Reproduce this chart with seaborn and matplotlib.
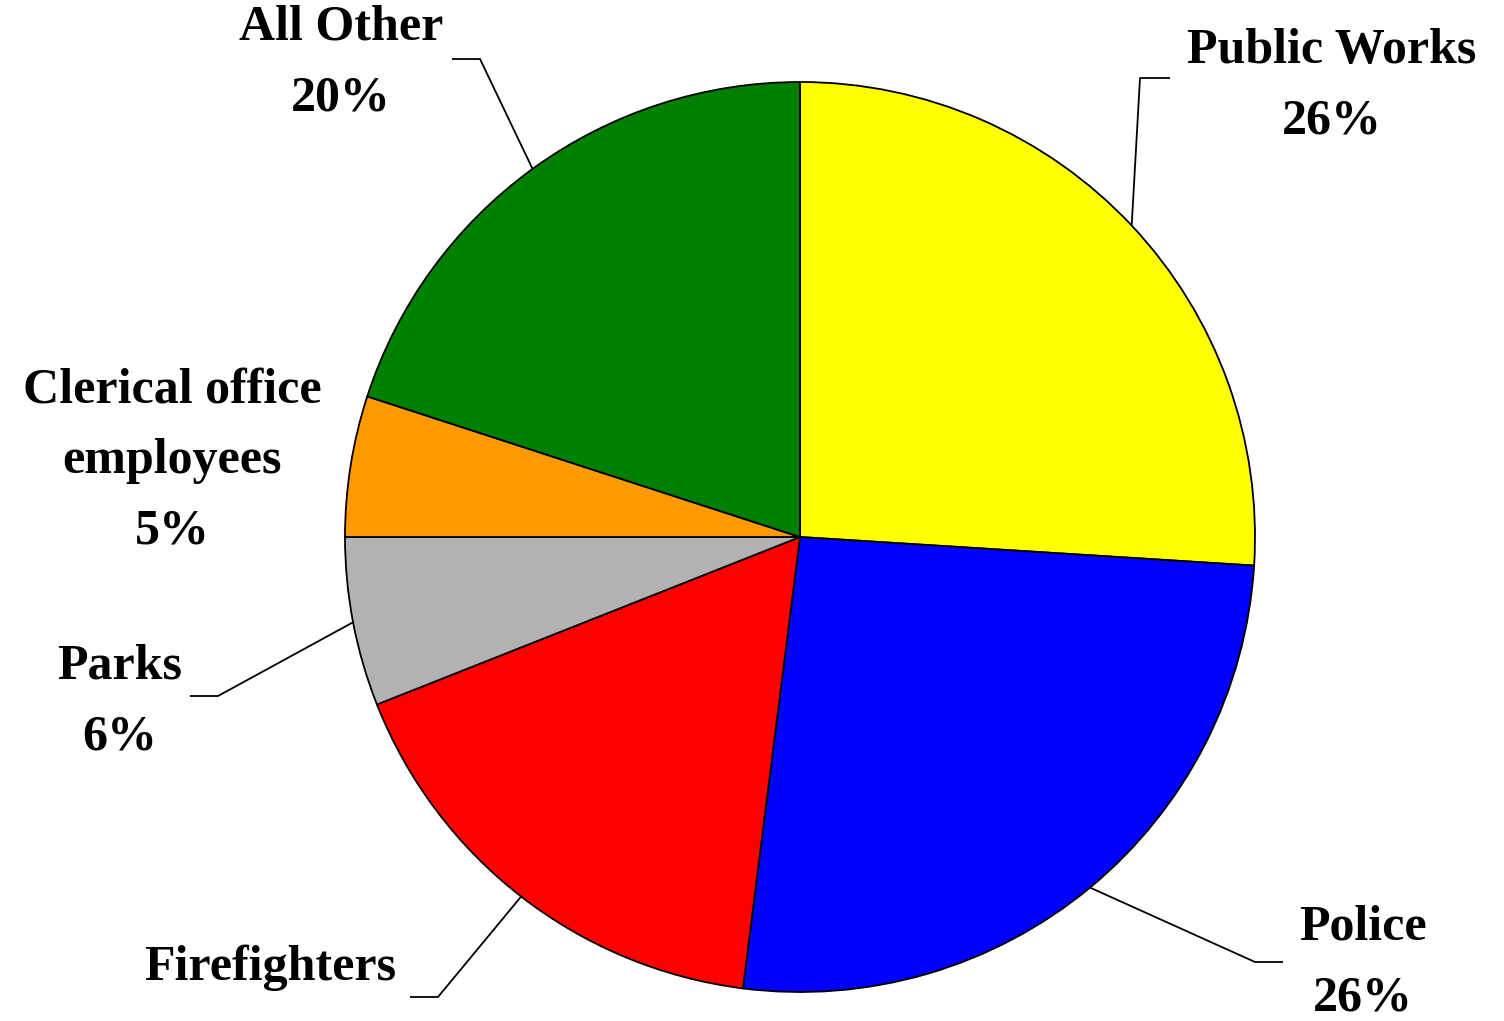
import numpy as np
import matplotlib
matplotlib.use("Agg")
import matplotlib.pyplot as plt
import seaborn as sns

# Share of employees by department
departments = ["Public Works", "Police", "Firefighters", "Parks",
               "Clerical office\nemployees", "All Other"]
shares = [26, 26, 17, 6, 5, 20]
colors = ["#FFFF00", "#0000FF", "#FF0000", "#B2B2B2", "#FF9900", "#008000"]
show_pct = [True, True, False, True, True, True]

sns.set_theme(style="white")
plt.rcParams["font.family"] = ["Liberation Serif", "DejaVu Serif"]

W, H = 1504, 1021
fig = plt.figure(figsize=(W / 100, H / 100), dpi=100)
ax = fig.add_axes([0, 0, 1, 1])

cx, cy, r = 800, H - 537, 455
wedges, _ = ax.pie(shares, colors=colors, startangle=90, counterclock=False,
                   center=(cx, cy), radius=r, frame=True,
                   wedgeprops=dict(edgecolor="black", linewidth=1.3))
ax.set_xlim(0, W)
ax.set_ylim(0, H)
ax.set_aspect("equal")
ax.axis("off")

# label text anchor (x, y from top) and leader elbow/end points (from top)
label_pos = [(1332, 86), (1363, 963), (270, 968), (120, 702), (172, 461), (341, 63)]
leaders = [
    [(1140, 78), (1170, 78)],
    [(1255, 962), (1283, 962)],
    [(438, 997), (410, 997)],
    [(218, 696), (190, 696)],
    None,
    [(480, 59), (452, 59)],
]

for w, name, val, pct, (lx, ly), lead in zip(wedges, departments, shares,
                                             show_pct, label_pos, leaders):
    text = f"{name}\n{val}%" if pct else name
    ax.text(lx, H - ly, text, ha="center", va="center", fontsize=36,
            fontweight="bold", linespacing=1.7, color="black")
    if lead is not None:
        theta = np.deg2rad((w.theta1 + w.theta2) / 2)
        sx, sy = cx + r * np.cos(theta), cy + r * np.sin(theta)
        xs = [sx] + [p[0] for p in lead]
        ys = [sy] + [H - p[1] for p in lead]
        ax.plot(xs, ys, color="black", linewidth=1.3, solid_capstyle="butt")

fig.savefig("out.png", dpi=100, facecolor="white")
